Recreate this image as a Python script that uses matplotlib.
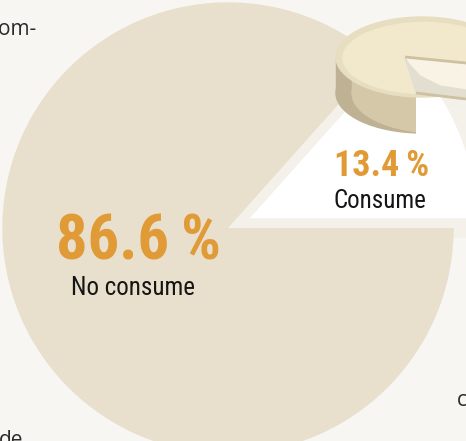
import numpy as np
import matplotlib
matplotlib.use("Agg")
import matplotlib.pyplot as plt
from matplotlib import font_manager
from matplotlib.patches import Ellipse, Polygon, Rectangle

# data
labels = ["Consume", "No consume"]
shares = [13.4, 86.6]
pct_text = ["13.4\u2009%", "86.6\u2009%"]

BG = "#f8f6f2"
BEIGE = "#e8dfcd"
ORANGE = "#e09b37"


def pick_narrow_font():
    # the original uses a condensed face; use one if the box has it
    fonts = font_manager.fontManager.ttflist
    for name in ["Liberation Sans Narrow", "Roboto Condensed", "Open Sans Condensed",
                 "Noto Sans Condensed", "DejaVu Sans Condensed"]:
        if any(f.name == name for f in fonts):
            return name, "normal"
    for f in fonts:
        if "condensed" in str(f.stretch).lower() or "Narrow" in f.name or "Condensed" in f.name:
            return f.name, f.stretch
    return None, None


narrow, stretch = pick_narrow_font()
if narrow:
    FAM = [narrow, "DejaVu Sans"]
    SIZES = {"big": 45, "small_pct": 26, "label": 18}
else:
    FAM = ["Roboto", "DejaVu Sans"]
    stretch = "normal"
    SIZES = {"big": 38, "small_pct": 22, "label": 14.5}

W, H = 466, 441
fig = plt.figure(figsize=(W / 100, H / 100), dpi=100, facecolor=BG)

# pie axes, placed so the circle sits where it does in the layout
R = 217.0
cx, cy = 228.0, 228.0
L = 1.3
pie_ax = fig.add_axes([(cx - L * R) / W, (H - cy - L * R) / H, 2 * L * R / W, 2 * L * R / H])
pie_ax.set_xlim(-L, L)
pie_ax.set_ylim(-L, L)
pie_ax.axis("off")

wedges, _ = pie_ax.pie(shares, startangle=0, counterclock=True, radius=1.0,
                       colors=["white", BEIGE])
wedges[0].set_radius(1.15)
wedges[0].set_edgecolor("#f4f0ea")
wedges[0].set_linewidth(14)
wedges[0].set_joinstyle("miter")
wedges[0].set_zorder(1)
wedges[1].set_edgecolor("none")
wedges[1].set_zorder(2)
for w in wedges:
    w.set_clip_on(False)

# overlay in pixel coordinates
ax = fig.add_axes([0, 0, 1, 1])
ax.set_xlim(0, W)
ax.set_ylim(H, 0)
ax.axis("off")
ax.patch.set_alpha(0)

# cheese icon
ex, ey, ew, eh, th = 422, 57, 172, 80, 36
side_clip = Polygon([(300, 0), (416, 0), (416, 200), (300, 200)], closed=True, transform=ax.transData)
for xoff, col in [(0, "#bfb294"), (16, "#d5c8a8")]:
    e = Ellipse((ex + xoff, ey + th), ew, eh, color=col, zorder=3)
    r = Rectangle((ex - ew / 2 + xoff, ey), ew, th, color=col, zorder=3)
    for p in (e, r):
        ax.add_patch(p)
        p.set_clip_path(side_clip)
ax.add_patch(Ellipse((ex, ey), ew, eh, color="#e7dec1", zorder=4))
ax.add_patch(Ellipse((ex + 2, ey + 1), ew - 10, eh - 9, color="#f2e9cd", zorder=4))
ax.add_patch(Polygon([(405, 57), (466, 63), (466, 99), (416, 93)], closed=True,
                     color="#f9f3e5", zorder=5))
ax.add_patch(Polygon([(405, 58), (416, 93), (466, 99), (466, 90), (440, 86), (420, 76), (409, 64)],
                     closed=True, color="#e2dfd1", zorder=5))
ax.plot([405, 466], [57, 63], color="#cdc1a2", lw=2, zorder=6, solid_capstyle="butt")
ax.plot([416, 466], [93, 99], color="#cdc1a2", lw=2, zorder=6, solid_capstyle="butt")

# labels
ax.text(138, 260, pct_text[1], color=ORANGE, fontsize=SIZES["big"], fontweight="bold",
        family=FAM, stretch=stretch, ha="center", va="baseline", zorder=7)
ax.text(133, 295, labels[1], color="#151515", fontsize=SIZES["label"],
        family=FAM, stretch=stretch, ha="center", va="baseline", zorder=7)
ax.text(382, 176, pct_text[0], color=ORANGE, fontsize=SIZES["small_pct"], fontweight="bold",
        family=FAM, stretch=stretch, ha="center", va="baseline", zorder=7)
ax.text(380, 208, labels[0], color="#151515", fontsize=SIZES["label"],
        family=FAM, stretch=stretch, ha="center", va="baseline", zorder=7)

# cut-off body text around the graphic (cut in the original too)
ax.text(37, 35, "com-", color="#2a2a2a", fontsize=15, family="Open Sans",
        ha="right", va="baseline", zorder=7)
ax.text(-1, 446, "de", color="#2a2a2a", fontsize=15, family="Open Sans",
        ha="left", va="baseline", zorder=7)
ax.text(457, 406, "co", color="#2a2a2a", fontsize=15, family="Open Sans",
        ha="left", va="baseline", zorder=7)

fig.savefig("out.png", dpi=100, facecolor=BG)
